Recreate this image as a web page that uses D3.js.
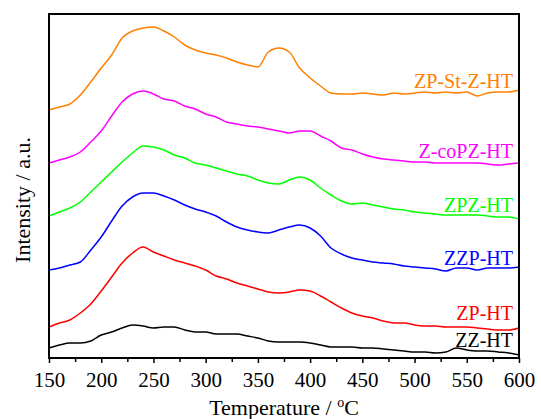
<!DOCTYPE html>
<html>
<head>
<meta charset="utf-8">
<script src="https://cdn.jsdelivr.net/npm/d3@7"></script>
<style>
  body { margin: 0; background: #fff; }
  svg text { font-family: "Liberation Serif", "Times New Roman", serif; }
</style>
</head>
<body>
<svg id="chart"></svg>
<script>
// temperature grid (°C)
var temps = [150, 160, 170, 180, 190, 200, 210, 220, 230, 240,
  250, 260, 270, 280, 290, 300, 310, 320, 330, 340,
  350, 360, 370, 380, 390, 400, 410, 420, 430, 440,
  450, 460, 470, 480, 490, 500, 510, 520, 530, 540,
  550, 560, 570, 580, 590, 600];

// stacked intensities (a.u.)
var zpStZ = [248, 251, 254, 263, 276, 290, 303, 320, 327, 330,
  331, 327, 321, 313, 308, 305, 303, 300, 296, 293,
  291, 306, 310, 306, 290, 280, 272, 265, 264, 264,
  265, 264, 263, 265, 264, 265, 266, 265, 266, 265,
  266, 262, 265, 266, 266, 268];
var zCoPZ = [195, 198, 201, 206, 216, 227, 242, 256, 264, 267,
  264, 259, 257, 252, 249, 244, 241, 236, 234, 232,
  231, 229, 227, 225, 227, 227, 222, 217, 210, 208,
  204, 201, 199, 198, 197, 196, 196, 195, 195, 195,
  195, 195, 194, 193, 194, 195];
var zpz = [142, 146, 150, 156, 166, 176, 186, 196, 205, 212,
  211, 208, 203, 200, 195, 193, 190, 187, 184, 182,
  178, 175, 174, 178, 181, 178, 170, 163, 157, 154,
  155, 153, 151, 149, 148, 146, 145, 144, 143, 143,
  143, 143, 142, 141, 141, 139];
var zzp = [88, 90, 93, 96, 108, 121, 137, 152, 161, 165,
  165, 162, 158, 153, 149, 146, 142, 136, 131, 128,
  126, 125, 128, 131, 133, 130, 122, 110, 104, 100,
  98, 96, 95, 94, 92, 91, 90, 89, 87, 90,
  90, 88, 90, 90, 90, 91];
var zp = [31, 35, 38, 45, 54, 67, 81, 95, 105, 111,
  106, 102, 98, 95, 92, 88, 82, 79, 75, 72,
  69, 66, 65, 66, 68, 67, 62, 56, 50, 45,
  42, 40, 37, 35, 35, 33, 32, 32, 31, 31,
  31, 30, 29, 28, 28, 30];
var zz = [10, 13, 15, 15, 17, 23, 26, 30, 33, 32,
  30, 31, 31, 28, 26, 26, 24, 24, 24, 22,
  20, 17, 16, 16, 16, 15, 13, 11, 11, 11,
  10, 10, 9, 8, 7, 6, 6, 5, 6, 10,
  8, 7, 7, 6, 5, 3];

var seriesNames = ["ZP-St-Z-HT", "Z-coPZ-HT", "ZPZ-HT", "ZZP-HT", "ZP-HT", "ZZ-HT"];
var seriesValues = [zpStZ, zCoPZ, zpz, zzp, zp, zz];
var labelLevels = [270, 200, 146, 93, 38, 11];   // where each name sits (a.u.)
var seriesColors = ["#ff8000", "#ff00ff", "#00ff00", "#0000ff", "#ff0000", "#000000"];

var majorTicks = [150, 200, 250, 300, 350, 400, 450, 500, 550, 600];
var minorTicks = [175, 225, 275, 325, 375, 425, 475, 525, 575];

var margin = { top: 14, right: 22, bottom: 61, left: 49 },
  width = 541 - margin.left - margin.right,
  height = 419 - margin.top - margin.bottom;

var svg = d3.select("#chart")
  .attr("width", 541)
  .attr("height", 419);

var g = svg.append("g")
  .attr("transform", "translate(" + margin.left + "," + margin.top + ")");

var x = d3.scaleLinear().domain([150, 600]).range([0, width]);
var y = d3.scaleLinear().domain([0, height]).range([height, 0]);

var line = d3.line()
  .curve(d3.curveMonotoneX)
  .x(function (d) { return x(d[0]); })
  .y(function (d) { return y(d[1]); });

seriesValues.forEach(function (vals, i) {
  var pts = temps.map(function (t, j) { return [t, vals[j]]; });
  g.append("path")
    .datum(pts)
    .attr("fill", "none")
    .attr("stroke", seriesColors[i])
    .attr("stroke-width", 1.5)
    .attr("stroke-linejoin", "round")
    .attr("d", line);

  g.append("text")
    .attr("x", width - 6)
    .attr("y", y(labelLevels[i]))
    .attr("text-anchor", "end")
    .attr("fill", seriesColors[i])
    .style("font-size", "20px")
    .text(seriesNames[i]);
});

// minor ticks
g.append("g")
  .attr("transform", "translate(0," + height + ")")
  .call(d3.axisBottom(x).tickValues(minorTicks).tickSize(4).tickSizeOuter(0).tickFormat(""))
  .call(function (a) { a.select(".domain").remove(); })
  .selectAll("line").attr("stroke", "#000").attr("stroke-width", 1.5);

// major ticks + labels
var xAxis = g.append("g")
  .attr("transform", "translate(0," + height + ")")
  .call(d3.axisBottom(x).tickValues(majorTicks).tickSize(5).tickSizeOuter(0).tickPadding(9));
xAxis.select(".domain").remove();
xAxis.selectAll("line").attr("stroke", "#000").attr("stroke-width", 1.5);
xAxis.selectAll("text")
  .attr("fill", "#000")
  .style("font-size", "21px")
  .style("font-family", "'Liberation Serif', serif");

// frame
g.append("rect")
  .attr("width", width)
  .attr("height", height)
  .attr("fill", "none")
  .attr("stroke", "#000")
  .attr("stroke-width", 2);

// axis titles
var xt = svg.append("text")
  .attr("x", margin.left + width / 2)
  .attr("y", 415)
  .attr("text-anchor", "middle")
  .style("font-size", "22px");
xt.append("tspan").text("Temperature / ");
xt.append("tspan").attr("dy", -8).style("font-size", "14px").text("o");
xt.append("tspan").attr("dy", 8).text("C");

svg.append("text")
  .attr("transform", "translate(30,200) rotate(-90)")
  .attr("text-anchor", "middle")
  .style("font-size", "22px")
  .text("Intensity / a.u.");
</script>
</body>
</html>
